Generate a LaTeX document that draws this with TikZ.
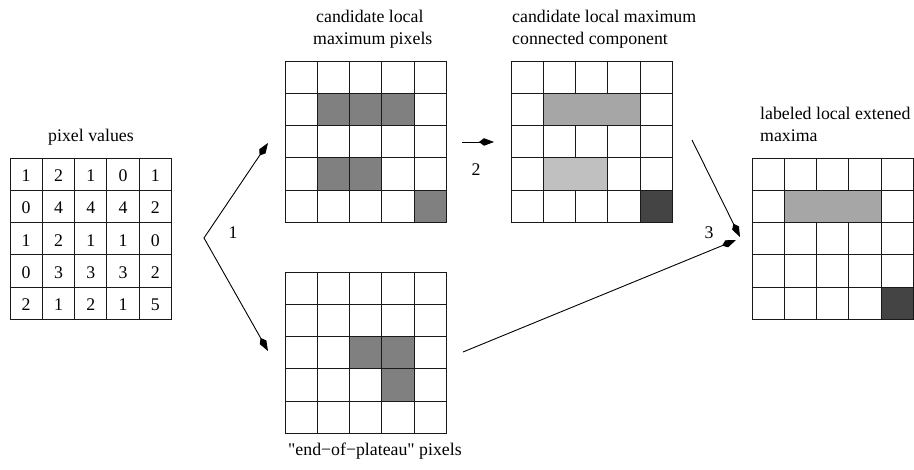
\documentclass[tikz,border=0pt]{standalone}
\usepackage{fontspec}
\setmainfont{Liberation Serif}
\usetikzlibrary{arrows.meta}
\definecolor{midgray}{HTML}{808080}
\definecolor{blockgray}{HTML}{A6A6A6}
\definecolor{palegray}{HTML}{C0C0C0}
\definecolor{darkblock}{HTML}{444444}
\newcommand\cs{32.3}
\newcommand\gridat[3]{%
  \node[gridframe] (#1) at (#2+80.75,#3+80.75) {};
  \foreach \ii in {0,...,4}{\foreach \jj in {0,...,4}{
    \draw[cellline] (#2+\ii*\cs,#3+\jj*\cs) rectangle ++(\cs,\cs);}}%
}
\newcommand\blockat[6]{% x y col row ncols color
  \draw[cellline,fill=#6] (#1+#3*\cs-\cs,#2+#4*\cs-\cs) rectangle ++(#5*\cs,\cs);%
}
\begin{document}
\begin{tikzpicture}[x=1pt,y=-1pt,
  font=\fontsize{17.8pt}{22pt}\selectfont,
  cellline/.style={draw=black!90,line width=0.9pt},
  gridframe/.style={minimum width=161.5pt,minimum height=161.5pt,inner sep=0pt,draw=none},
  lbl/.style={anchor=base west,inner sep=0pt},
  clbl/.style={anchor=base,inner sep=0pt},
  tipk/.tip={Kite[length=15pt,width=7.5pt,inset=5pt]},
  arr/.style={line width=0.9pt,-tipk},
  darr/.style={line width=0.9pt,tipk-tipk}]
\useasboundingbox (0,0) rectangle (914,470);

% grid 1: pixel values
\gridat{g1}{10}{158}
\foreach \v [count=\k from 0] in {1,2,1,0,1, 0,4,4,4,2, 1,2,1,1,0, 0,3,3,3,2, 2,1,2,1,5}{
  \pgfmathtruncatemacro\cc{mod(\k,5)}
  \pgfmathtruncatemacro\rr{div(\k,5)}
  \node[clbl] (v\k) at (10+\cc*\cs+16.15,158+\rr*\cs+23.5) {\v};
}
\node[clbl] (t1) at (91,142) {pixel values};

% grid 2: candidate local maximum pixels
\gridat{g2}{285}{61}
\blockat{285}{61}{2}{2}{1}{midgray}
\blockat{285}{61}{3}{2}{1}{midgray}
\blockat{285}{61}{4}{2}{1}{midgray}
\blockat{285}{61}{2}{4}{1}{midgray}
\blockat{285}{61}{3}{4}{1}{midgray}
\blockat{285}{61}{5}{5}{1}{midgray}
\node[lbl] (t2a) at (316,23) {candidate local};
\node[lbl] (t2b) at (313,45) {maximum pixels};

% grid 3: connected components
\gridat{g3}{511}{61}
\blockat{511}{61}{2}{2}{3}{blockgray}
\blockat{511}{61}{2}{4}{2}{palegray}
\blockat{511}{61}{5}{5}{1}{darkblock}
\node[lbl] (t3a) at (512,23) {candidate local maximum};
\node[lbl] (t3b) at (512,45) {connected component};

% grid 4: labeled local extended maxima
\gridat{g4}{752}{158}
\blockat{752}{158}{2}{2}{3}{blockgray}
\blockat{752}{158}{5}{5}{1}{darkblock}
\node[lbl] (t4a) at (760,120) {labeled local extened};
\node[lbl] (t4b) at (760,142) {maxima};

% grid 5: end-of-plateau pixels
\gridat{g5}{285}{272}
\blockat{285}{272}{3}{3}{1}{midgray}
\blockat{285}{272}{4}{3}{1}{midgray}
\blockat{285}{272}{4}{4}{1}{midgray}
\node[lbl] (t5) at (288,456) {\addfontfeature{Ligatures=TeXOff}"end−of−plateau" pixels};

% arrows
\coordinate (a1up) at (268,143);
\coordinate (a1v) at (204,238);
\coordinate (a1dn) at (268,351);
\draw[darr] (a1up) -- (a1v) -- (a1dn);
\node[clbl] (s1) at (233,239) {1};

\coordinate (a2s) at (462,142);
\coordinate (a2e) at (494,142);
\draw[arr] (a2s) -- (a2e);
\node[clbl] (s2) at (476,176) {2};

\coordinate (a3s) at (692,140);
\coordinate (a3e) at (740,237);
\draw[arr] (a3s) -- (a3e);
\coordinate (a4s) at (463,352);
\coordinate (a4e) at (736,240);
\draw[arr] (a4s) -- (a4e);
\node[clbl] (s3) at (709,239) {3};
\end{tikzpicture}
\end{document}
